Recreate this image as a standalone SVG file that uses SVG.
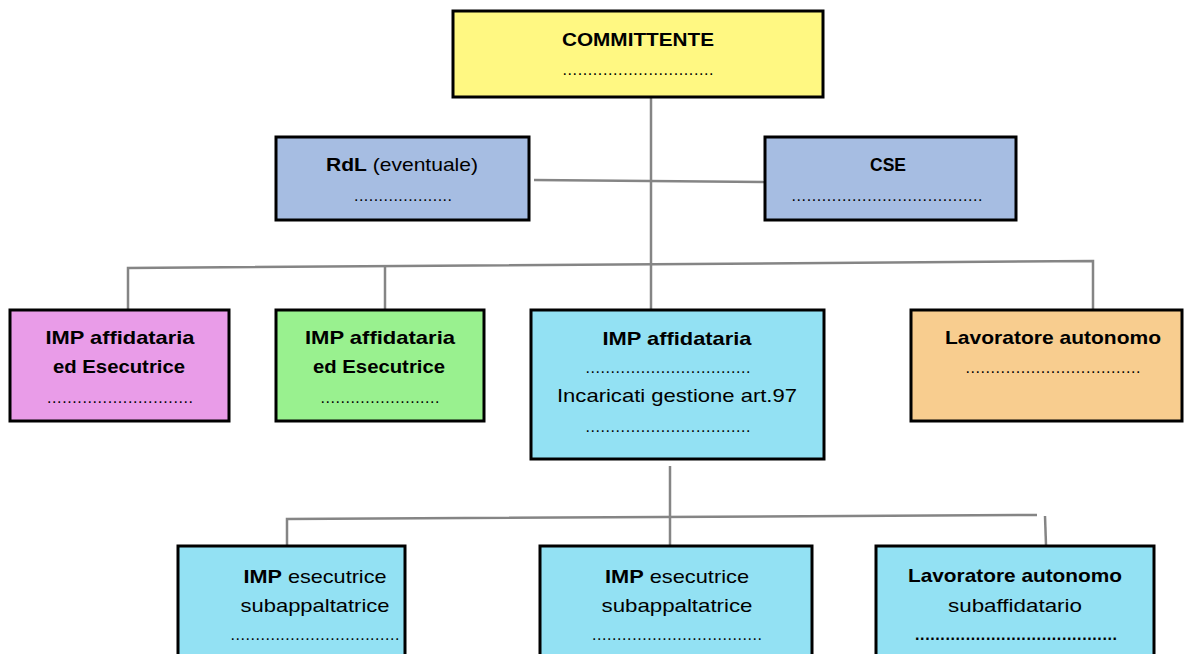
<svg xmlns="http://www.w3.org/2000/svg" width="1184" height="654" viewBox="0 0 1184 654">
<style>
.box{stroke:#000;stroke-width:3}
.yel{fill:#FFF882}
.blu{fill:#A6BDE2}
.pnk{fill:#E99CE8}
.grn{fill:#99F18F}
.cya{fill:#93E1F3}
.org{fill:#F8CD8F}
text{font-family:"Liberation Sans",Arial,sans-serif;font-size:19px;fill:#000;text-anchor:middle}
.b{font-weight:bold}
.d{font-size:16px}
.conn{stroke:#858585;stroke-width:2.5;fill:none}
</style>
<g id="connectors">
<path class="conn" d="M651,98 V310"/>
<path class="conn" d="M534,180 L765,182"/>
<path class="conn" d="M128,310 V268 L1093,261 V310"/>
<path class="conn" d="M385,266 V310"/>
<path class="conn" d="M670,466 V545"/>
<path class="conn" d="M287,545 V519 L1037,515"/>
<path class="conn" d="M1045,516 L1046,545"/>
</g>
<g id="committente">
<rect class="box yel" x="453" y="11" width="370" height="86"/>
<text x="638" y="46" class="b" textLength="152" lengthAdjust="spacingAndGlyphs">COMMITTENTE</text>
<text x="638" y="75" class="d" textLength="151" lengthAdjust="spacing">..............................</text>
</g>
<g id="rdl">
<rect class="box blu" x="276" y="137" width="253" height="83"/>
<text x="402" y="171" textLength="152" lengthAdjust="spacingAndGlyphs"><tspan class="b">RdL</tspan> (eventuale)</text>
<text x="403" y="201" class="d" textLength="98" lengthAdjust="spacing">....................</text>
</g>
<g id="cse">
<rect class="box blu" x="765" y="137" width="251" height="83"/>
<text x="888" y="171" class="b" textLength="36" lengthAdjust="spacingAndGlyphs">CSE</text>
<text x="887" y="201" class="d" textLength="191" lengthAdjust="spacing">......................................</text>
</g>
<g id="imp-pink">
<rect class="box pnk" x="10" y="310" width="219" height="111"/>
<text x="120" y="344" class="b" textLength="149" lengthAdjust="spacingAndGlyphs">IMP affidataria</text>
<text x="119" y="373" class="b" textLength="132" lengthAdjust="spacingAndGlyphs">ed Esecutrice</text>
<text x="120" y="403" class="d" textLength="146" lengthAdjust="spacing">.............................</text>
</g>
<g id="imp-green">
<rect class="box grn" x="276" y="310" width="208" height="111"/>
<text x="380" y="344" class="b" textLength="150" lengthAdjust="spacingAndGlyphs">IMP affidataria</text>
<text x="379" y="373" class="b" textLength="132" lengthAdjust="spacingAndGlyphs">ed Esecutrice</text>
<text x="380" y="403" class="d" textLength="119" lengthAdjust="spacing">........................</text>
</g>
<g id="imp-cyan">
<rect class="box cya" x="531" y="310" width="293" height="149"/>
<text x="677" y="345" class="b" textLength="149" lengthAdjust="spacingAndGlyphs">IMP affidataria</text>
<text x="668" y="373" class="d" textLength="165" lengthAdjust="spacing">.................................</text>
<text x="677" y="402" textLength="240" lengthAdjust="spacingAndGlyphs">Incaricati gestione art.97</text>
<text x="668" y="432" class="d" textLength="165" lengthAdjust="spacing">.................................</text>
</g>
<g id="lav-aut">
<rect class="box org" x="911" y="310" width="271" height="111"/>
<text x="1053" y="344" class="b" textLength="216" lengthAdjust="spacingAndGlyphs">Lavoratore autonomo</text>
<text x="1053" y="373" class="d" textLength="175" lengthAdjust="spacing">...................................</text>
</g>
<g id="sub1">
<rect class="box cya" x="178" y="546" width="227" height="112"/>
<text x="315" y="583" textLength="143" lengthAdjust="spacingAndGlyphs"><tspan class="b">IMP</tspan> esecutrice</text>
<text x="315" y="612" textLength="149" lengthAdjust="spacingAndGlyphs">subappaltatrice</text>
<text x="315" y="640" class="d" textLength="169" lengthAdjust="spacing">..................................</text>
</g>
<g id="sub2">
<rect class="box cya" x="540" y="546" width="272" height="112"/>
<text x="677" y="583" textLength="144" lengthAdjust="spacingAndGlyphs"><tspan class="b">IMP</tspan> esecutrice</text>
<text x="677" y="612" textLength="151" lengthAdjust="spacingAndGlyphs">subappaltatrice</text>
<text x="677" y="640" class="d" textLength="170" lengthAdjust="spacing">..................................</text>
</g>
<g id="sub3">
<rect class="box cya" x="876" y="546" width="278" height="112"/>
<text x="1015" y="582" class="b" textLength="214" lengthAdjust="spacingAndGlyphs">Lavoratore autonomo</text>
<text x="1015" y="612" textLength="134" lengthAdjust="spacingAndGlyphs">subaffidatario</text>
<text x="1016" y="640" class="b d" textLength="202" lengthAdjust="spacing">........................................</text>
</g>
</svg>
